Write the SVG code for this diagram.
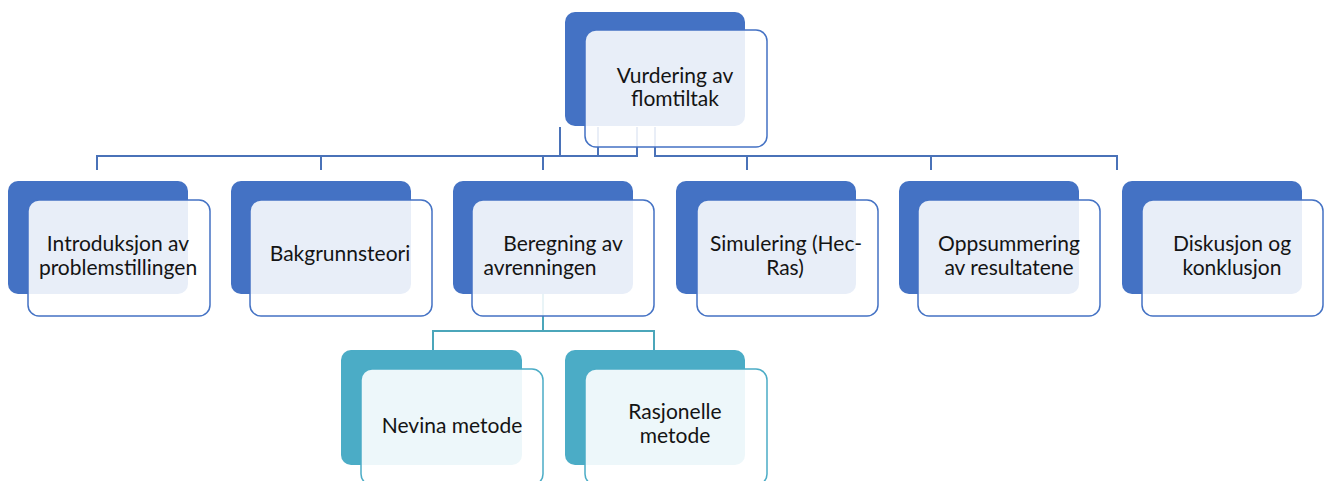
<svg xmlns="http://www.w3.org/2000/svg" width="1325" height="481" viewBox="0 0 1325 481">
<style>
.dk{fill:#4472C4}
.lt{fill:#FFFFFF;fill-opacity:0.88;stroke:#4472C4;stroke-width:1.5}
.dkt{fill:#4BACC6}
.ltt{fill:#FFFFFF;fill-opacity:0.9;stroke:#4BACC6;stroke-width:1.5}
.c{fill:none;stroke:#4A72B8;stroke-width:2}
.ct{fill:none;stroke:#4BA6BA;stroke-width:2}
text{font-family:Lato,"Liberation Sans",sans-serif;font-size:21px;fill:#141414;text-anchor:middle}
</style>
<rect width="1325" height="481" fill="#FFFFFF"/>
<g id="top-back"><rect class="dk" x="565" y="12" width="180" height="114" rx="10"/></g>
<g id="children-back">
<rect class="dk" x="8" y="181" width="180" height="113" rx="10"/>
<rect class="dk" x="231" y="181" width="180" height="113" rx="10"/>
<rect class="dk" x="453" y="181" width="180" height="113" rx="10"/>
<rect class="dk" x="676" y="181" width="180" height="113" rx="10"/>
<rect class="dk" x="899" y="181" width="180" height="113" rx="10"/>
<rect class="dk" x="1122" y="181" width="180" height="113" rx="10"/>
<rect class="dkt" x="341" y="350" width="181" height="115" rx="10"/>
<rect class="dkt" x="565" y="350" width="180" height="115" rx="10"/>
</g>
<g id="connectors">
<path class="c" d="M97 170V156H637V127M655 127V156H1117V170M321 156V170M543 156V170M747 156V170M931 156V170M560 127V156M598 127V156"/>
<path class="ct" d="M543 294V331M433 350V331H654V350"/>
</g>
<g id="n-top"><rect class="lt" x="585" y="30" width="182" height="117" rx="11"/>
<text x="675" y="83">Vurdering av</text><text x="675" y="106">flomtiltak</text></g>
<g id="n-intro"><rect class="lt" x="28" y="200" width="182" height="116" rx="11"/>
<text x="118" y="251">Introduksjon av</text><text x="118" y="275">problemstillingen</text></g>
<g id="n-bakgrunn"><rect class="lt" x="250" y="200" width="182" height="116" rx="11"/>
<text x="340" y="261">Bakgrunnsteori</text></g>
<g id="n-beregning"><rect class="lt" x="472" y="200" width="182" height="116" rx="11"/>
<text x="563" y="251">Beregning av</text><text x="540" y="275">avrenningen</text></g>
<g id="n-simulering"><rect class="lt" x="697" y="200" width="181" height="116" rx="11"/>
<text x="786" y="251">Simulering (Hec-</text><text x="785" y="275">Ras)</text></g>
<g id="n-oppsummering"><rect class="lt" x="918" y="200" width="182" height="116" rx="11"/>
<text x="1009" y="251">Oppsummering</text><text x="1009" y="275">av resultatene</text></g>
<g id="n-diskusjon"><rect class="lt" x="1142" y="200" width="181" height="116" rx="11"/>
<text x="1232" y="251">Diskusjon og</text><text x="1232" y="275">konklusjon</text></g>
<g id="n-nevina"><rect class="ltt" x="361" y="369" width="182" height="116" rx="11"/>
<text x="452" y="433">Nevina metode</text></g>
<g id="n-rasjonelle"><rect class="ltt" x="585" y="369" width="182" height="116" rx="11"/>
<text x="675" y="419">Rasjonelle</text><text x="675" y="443">metode</text></g>
</svg>
